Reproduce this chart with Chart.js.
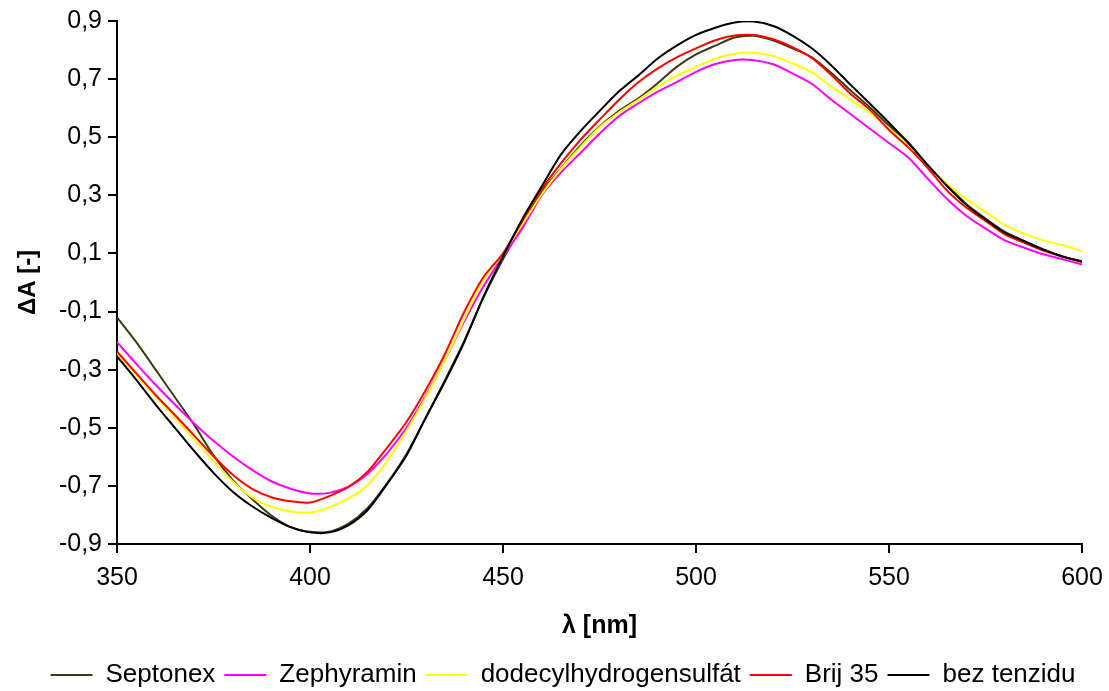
<!DOCTYPE html>
<html>
<head>
<meta charset="utf-8">
<script src="https://cdn.jsdelivr.net/npm/chart.js@4.4.1/dist/chart.umd.min.js"></script>
<style>
  html, body { margin: 0; padding: 0; background: #fff; }
  #wrap { width: 1109px; height: 691px; }
</style>
</head>
<body>
<div id="wrap"><canvas id="spectra"></canvas></div>
<script>
// wavelength grid (nm)
const wavelengths = [350, 355, 360, 365, 370, 375, 380, 385, 390, 395,
    400, 405, 410, 415, 420, 425, 430, 435, 440, 445,
    450, 455, 460, 465, 470, 475, 480, 485, 490, 495,
    500, 505, 510, 515, 520, 525, 530, 535, 540, 545,
    550, 555, 560, 565, 570, 575, 580, 585, 590, 595, 600];

const septonex = [-0.120, -0.205, -0.300, -0.395, -0.490, -0.595, -0.680, -0.745, -0.802, -0.842,
    -0.858, -0.858, -0.830, -0.775, -0.690, -0.590, -0.465, -0.335, -0.200, -0.050,
    0.080, 0.197, 0.310, 0.392, 0.470, 0.537, 0.590, 0.633, 0.685, 0.742,
    0.785, 0.815, 0.843, 0.849, 0.833, 0.806, 0.775, 0.722, 0.662, 0.603,
    0.540, 0.482, 0.404, 0.335, 0.270, 0.220, 0.174, 0.143, 0.114, 0.090, 0.073];

const zephyramin = [-0.205, -0.280, -0.352, -0.420, -0.485, -0.545, -0.598, -0.645, -0.684, -0.710,
    -0.726, -0.724, -0.703, -0.657, -0.587, -0.500, -0.390, -0.265, -0.133, -0.012,
    0.090, 0.186, 0.300, 0.378, 0.445, 0.512, 0.572, 0.616, 0.656, 0.690,
    0.725, 0.752, 0.766, 0.765, 0.751, 0.720, 0.684, 0.630, 0.580, 0.530,
    0.480, 0.430, 0.358, 0.288, 0.230, 0.186, 0.145, 0.120, 0.097, 0.080, 0.062];

const dodecyl = [-0.243, -0.318, -0.393, -0.465, -0.540, -0.614, -0.685, -0.740, -0.772, -0.788,
    -0.792, -0.774, -0.743, -0.697, -0.614, -0.510, -0.395, -0.265, -0.125, 0.010,
    0.100, 0.200, 0.303, 0.390, 0.465, 0.534, 0.585, 0.628, 0.673, 0.712,
    0.742, 0.770, 0.787, 0.791, 0.780, 0.754, 0.724, 0.675, 0.630, 0.585,
    0.530, 0.470, 0.398, 0.340, 0.287, 0.243, 0.198, 0.168, 0.145, 0.129, 0.108];

const brij35 = [-0.237, -0.313, -0.387, -0.456, -0.527, -0.598, -0.662, -0.710, -0.739, -0.753,
    -0.757, -0.735, -0.703, -0.650, -0.568, -0.480, -0.370, -0.245, -0.100, 0.020,
    0.100, 0.212, 0.320, 0.410, 0.490, 0.560, 0.628, 0.688, 0.736, 0.775,
    0.806, 0.834, 0.850, 0.852, 0.837, 0.810, 0.773, 0.715, 0.650, 0.595,
    0.525, 0.465, 0.395, 0.317, 0.258, 0.212, 0.166, 0.137, 0.110, 0.089, 0.070];

const bezTenzidu = [-0.254, -0.335, -0.420, -0.500, -0.580, -0.655, -0.720, -0.770, -0.810, -0.842,
    -0.860, -0.860, -0.835, -0.782, -0.693, -0.595, -0.465, -0.340, -0.204, -0.047,
    0.090, 0.218, 0.330, 0.440, 0.520, 0.590, 0.657, 0.712, 0.770, 0.815,
    0.852, 0.877, 0.895, 0.898, 0.883, 0.850, 0.806, 0.748, 0.681, 0.616,
    0.550, 0.480, 0.405, 0.333, 0.268, 0.217, 0.172, 0.142, 0.113, 0.089, 0.072];

const seriesNames = ['Septonex', 'Zephyramin', 'dodecylhydrogensulfát', 'Brij 35', 'bez tenzidu'];
const seriesColors = ['#3c3c14', '#ff00ff', '#ffff00', '#ff0000', '#000000'];
const xTicks = [350, 400, 450, 500, 550, 600];
const yTicks = [-0.9, -0.7, -0.5, -0.3, -0.1, 0.1, 0.3, 0.5, 0.7, 0.9];

const allSeries = [septonex, zephyramin, dodecyl, brij35, bezTenzidu];

Chart.defaults.font.family = "'Liberation Sans', Arial, sans-serif";
Chart.defaults.color = '#000';

const datasets = allSeries.map((vals, i) => ({
    label: seriesNames[i],
    data: wavelengths.map((w, j) => ({ x: w, y: vals[j] })),
    borderColor: seriesColors[i],
    backgroundColor: seriesColors[i],
    borderWidth: 2,
    pointRadius: 0,
    tension: 0.25,
    fill: false,
    order: 5 - i
}));

// nudge the legend row a bit to the right, like the original
const legendShift = {
    id: 'legendShift',
    afterLayout(chart) {
        if (chart.legend) {
            chart.legend.left += 17;
            chart.legend.right += 17;
        }
    }
};

const ctx = document.getElementById('spectra');

new Chart(ctx, {
    type: 'line',
    data: { datasets: datasets },
    plugins: [legendShift],
    options: {
        responsive: true,
        maintainAspectRatio: false,
        animation: false,
        layout: {
            padding: { left: 10, right: 27, top: 20, bottom: -7 }
        },
        plugins: {
            tooltip: { enabled: false },
            legend: {
                position: 'bottom',
                labels: {
                    usePointStyle: true,
                    pointStyle: 'line',
                    pointStyleWidth: 42,
                    padding: 9,
                    font: { size: 26 },
                    sort: (a, b) => a.datasetIndex - b.datasetIndex
                }
            }
        },
        scales: {
            x: {
                type: 'linear',
                min: 350,
                max: 600,
                afterBuildTicks: (scale) => { scale.ticks = xTicks.map(v => ({ value: v })); },
                afterFit: (scale) => {
                    scale.height = 109;
                    scale.paddingLeft = 0;
                    scale.paddingRight = 0;
                },
                ticks: { font: { size: 25 }, padding: 10, maxRotation: 0 },
                grid: { drawOnChartArea: false, tickLength: 9, color: '#000', lineWidth: 2 },
                border: { color: '#000', width: 2 },
                title: {
                    display: true,
                    text: 'λ [nm]',
                    font: { size: 25, weight: 'bold' },
                    padding: { top: 0, bottom: 12 }
                }
            },
            y: {
                type: 'linear',
                min: -0.9,
                max: 0.9,
                afterBuildTicks: (scale) => { scale.ticks = yTicks.map(v => ({ value: v })); },
                afterFit: (scale) => { scale.width = 107; },
                ticks: {
                    font: { size: 25 },
                    padding: 6,
                    callback: (v) => v.toFixed(1).replace('.', ',')
                },
                grid: { drawOnChartArea: false, tickLength: 9, color: '#000', lineWidth: 2 },
                border: { color: '#000', width: 2 },
                title: {
                    display: true,
                    text: 'ΔA [-]',
                    font: { size: 24, weight: 'bold' },
                    padding: { top: 4, bottom: 0 }
                }
            }
        }
    }
});
</script>
</body>
</html>
